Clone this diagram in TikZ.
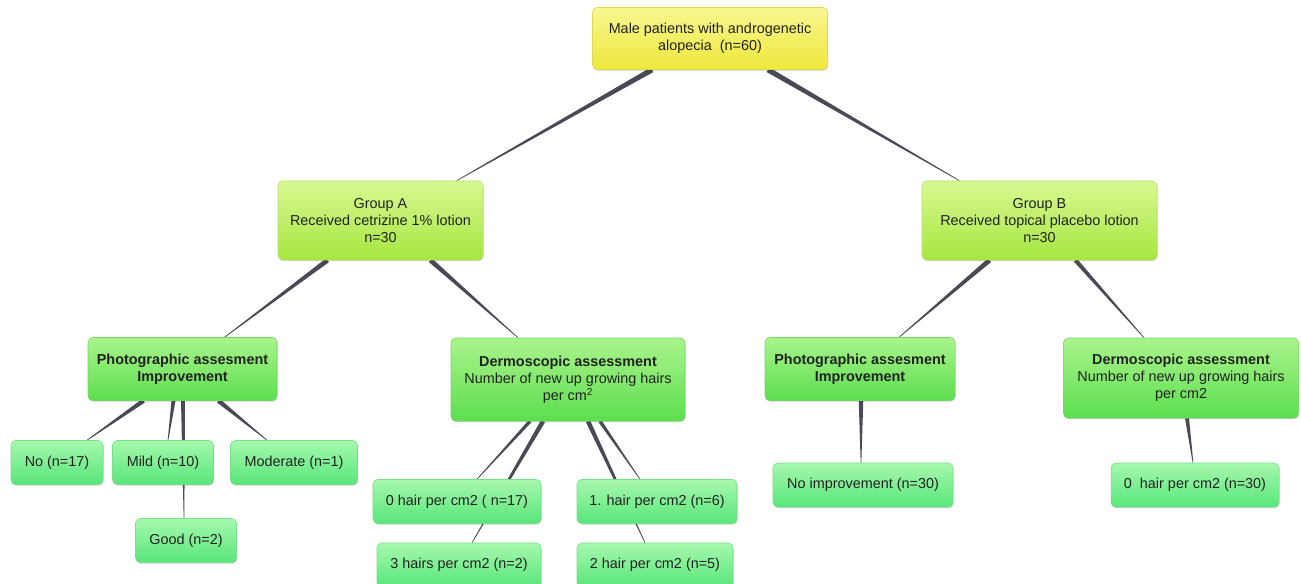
\documentclass[tikz,border=0pt]{standalone}
\usepackage{fontspec}
\setmainfont{Liberation Sans}
\usetikzlibrary{calc,shadows}
\pgfdeclarelayer{bg}
\pgfdeclarelayer{paper}
\pgfsetlayers{paper,bg,main}
\definecolor{txt}{HTML}{222222}
\definecolor{conn}{HTML}{4A4A56}
\definecolor{yelT}{HTML}{F8F690}
\definecolor{yelB}{HTML}{EEE83C}
\definecolor{yelD}{HTML}{DEDA4E}
\definecolor{limT}{HTML}{D8F892}
\definecolor{limB}{HTML}{A6E640}
\definecolor{limD}{HTML}{B4E464}
\definecolor{grnT}{HTML}{AAF48C}
\definecolor{grnB}{HTML}{5CDE4E}
\definecolor{grnD}{HTML}{72D864}
\definecolor{lefT}{HTML}{A6F8AE}
\definecolor{lefB}{HTML}{58E67A}
\definecolor{lefD}{HTML}{76DE8C}
\tikzset{
  box/.style={rounded corners=3.5pt, inner sep=0pt, align=center, text=txt,
    font=\fontsize{10.8}{12.9}\selectfont,
    drop shadow={shadow xshift=0.4pt, shadow yshift=-0.9pt, opacity=0.18, fill=black}},
  sz/.style 2 args={minimum width=#1*0.75pt, minimum height=#2*0.75pt},
  yel/.style={box, top color=yelT, bottom color=yelB, draw=yelD},
  lim/.style={box, top color=limT, bottom color=limB, draw=limD},
  grn/.style={box, top color=grnT, bottom color=grnB, draw=grnD},
  lef/.style={box, top color=lefT, bottom color=lefB, draw=lefD},
}
% tapered connector: start, end, half width at start
\newcommand\taper[3]{%
  \fill[conn] ($(#1)!#3!90:(#2)$) -- ($(#1)!#3!-90:(#2)$)
    -- ($(#2)!0.25pt!90:(#1)$) -- ($(#2)!0.25pt!-90:(#1)$) -- cycle;}
\begin{document}
\begin{tikzpicture}[x=0.75pt, y=-0.75pt]
\useasboundingbox (0,0) rectangle (1301,584);
\begin{pgfonlayer}{paper}
\fill[white] (0,0) rectangle (1301,584);
\end{pgfonlayer}

\node[yel, sz={235}{62}] (top) at (710,38.5) {Male patients with androgenetic\\alopecia\ \ (n=60)};
\node[lim, sz={205}{79}] (gA) at (380.5,220.5) {Group A\\Received cetrizine 1\% lotion\\n=30};
\node[lim, sz={235}{79}] (gB) at (1039.5,220.5) {Group B\\Received topical placebo lotion\\n=30};
\node[grn, sz={189}{63}] (pA) at (182.5,369) {\textbf{Photographic assesment}\\\textbf{Improvement}};
\node[grn, sz={234}{83}] (dA) at (568,379.5) {\textbf{Dermoscopic assessment}\\Number of new up growing hairs\\per cm\textsuperscript{2}};
\node[grn, sz={190}{63}] (pB) at (860,369) {\textbf{Photographic assesment}\\\textbf{Improvement}};
\node[grn, sz={235}{80}] (dB) at (1181,378) {\textbf{Dermoscopic assessment}\\Number of new up growing hairs\\per cm2};
\node[lef, sz={92}{44}] (no) at (57,462.5) {No (n=17)};
\node[lef, sz={101}{44}] (mild) at (163,462.5) {Mild (n=10)};
\node[lef, sz={127}{44}] (mod) at (294,462.5) {Moderate (n=1)};
\node[lef, sz={101}{44}] (good) at (186,540.5) {Good (n=2)};
\node[lef, sz={168}{44}] (h0) at (457,501.5) {0 hair per cm2 ( n=17)};
\node[lef, sz={160}{44}] (h1) at (657,501.5) {1. hair per cm2 (n=6)};
\node[lef, sz={164}{44}] (h3) at (459,565) {3 hairs per cm2 (n=2)};
\node[lef, sz={156}{44}] (h2) at (655,565) {2 hair per cm2 (n=5)};
\node[lef, sz={180}{44}] (noimp) at (863,485) {No improvement (n=30)};
\node[lef, sz={168}{44}] (hB) at (1195,485) {0\ \ hair per cm2 (n=30)};

\begin{pgfonlayer}{bg}
\coordinate (s1) at ($(top.south)+(-58,0)$);  \coordinate (e1) at ($(gA.north)+(76,0)$);
\coordinate (s2) at ($(top.south)+(58,0)$);   \coordinate (e2) at ($(gB.north)+(-80,0)$);
\coordinate (s3) at ($(gA.south)+(-53,0)$);   \coordinate (e3) at ($(pA.north)+(42,0)$);
\coordinate (s4) at ($(gA.south)+(50,0)$);    \coordinate (e4) at ($(dA.north)+(-50,0)$);
\coordinate (s5) at ($(gB.south)+(-50,0)$);   \coordinate (e5) at ($(pB.north)+(39,0)$);
\coordinate (s6) at ($(gB.south)+(36,0)$);    \coordinate (e6) at ($(dB.north)+(-37,0)$);
\coordinate (s7) at ($(pA.south)+(-39,0)$);   \coordinate (e7) at ($(no.north)+(30,0)$);
\coordinate (s8) at ($(pA.south)+(-9,0)$);    \coordinate (e8) at ($(mild.north)+(5,0)$);
\coordinate (s9) at ($(pA.south)+(0.5,0)$);   \coordinate (e9) at ($(good.north)+(-2,0)$);
\coordinate (s10) at ($(pA.south)+(36,0)$);   \coordinate (e10) at ($(mod.north)+(-27,0)$);
\coordinate (s11) at ($(dA.south)+(-38,0)$);  \coordinate (e11) at ($(h0.north)+(20,0)$);
\coordinate (s12) at ($(dA.south)+(-25,0)$);  \coordinate (e12) at ($(h3.north)+(13,0)$);
\coordinate (s13) at ($(dA.south)+(32,0)$);   \coordinate (e13) at ($(h1.north)+(-17,0)$);
\coordinate (s14) at ($(dA.south)+(20,0)$);   \coordinate (e14) at ($(h2.north)+(-10,0)$);
\coordinate (s15) at ($(pB.south)+(1,0)$);    \coordinate (e15) at ($(noimp.north)+(-2,0)$);
\coordinate (s16) at ($(dB.south)+(6,0)$);    \coordinate (e16) at ($(hB.north)+(-2,0)$);
\taper{s1}{e1}{2.0pt}
\taper{s2}{e2}{2.0pt}
\taper{s3}{e3}{1.8pt}
\taper{s4}{e4}{1.8pt}
\taper{s5}{e5}{1.8pt}
\taper{s6}{e6}{1.6pt}
\taper{s7}{e7}{1.7pt}
\taper{s8}{e8}{1.5pt}
\taper{s9}{e9}{1.5pt}
\taper{s10}{e10}{1.7pt}
\taper{s11}{e11}{1.3pt}
\taper{s12}{e12}{1.7pt}
\taper{s13}{e13}{1.3pt}
\taper{s14}{e14}{1.7pt}
\taper{s15}{e15}{1.7pt}
\taper{s16}{e16}{1.5pt}
\end{pgfonlayer}
\end{tikzpicture}
\end{document}
